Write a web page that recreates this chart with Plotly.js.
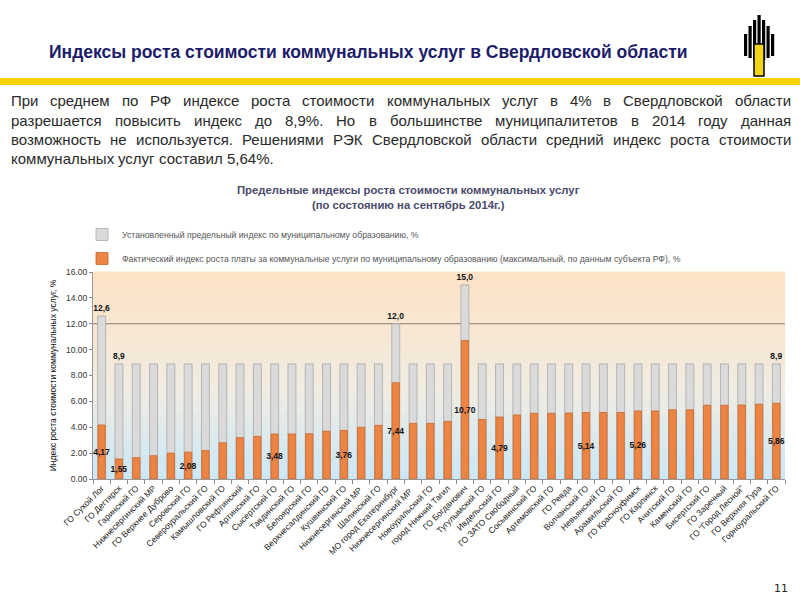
<!DOCTYPE html>
<html>
<head>
<meta charset="utf-8">
<script src="https://cdn.plot.ly/plotly-3.0.1.min.js"></script>
<style>
html,body{margin:0;padding:0;background:#fff;}
#chart{width:800px;height:600px;}
</style>
</head>
<body>
<div id="chart"></div>
<script>
// ---------------- DATA ----------------
const categories = [
  "ГО Сухой Лог", "ГО Дегтярск", "Гаринский ГО", "Нижнесергинский МР", "ГО Верхнее Дуброво",
  "Серовский ГО", "Североуральский ГО", "Камышловский ГО", "ГО Рефтинский", "Артинский ГО",
  "Сысертский ГО", "Тавдинский ГО", "Белоярский ГО", "Верхнесалдинский ГО", "Кушвинский ГО",
  "Нижнесергинский МР ", "Шалинский ГО", "МО город Екатеринбург", "Нижнесергинский МР  ", "Новоуральский ГО",
  "город Нижний Тагил", "ГО Богданович", "Тугулымский ГО", "Ивдельский ГО", "ГО ЗАТО Свободный",
  "Сосьвинский ГО", "Артемовский ГО", "ГО Ревда", "Волчанский ГО", "Невьянский ГО",
  "Арамильский ГО", "ГО Красноуфимск", "ГО Карпинск", "Ачитский ГО", "Каменский ГО",
  "Бисертский ГО", "ГО Заречный", "ГО \"Город Лесной\"", "ГО Верхняя Тура", "Горноуральский ГО"
];
const limitIndex = [
  12.6, 8.9, 8.9, 8.9, 8.9, 8.9, 8.9, 8.9, 8.9, 8.9,
  8.9, 8.9, 8.9, 8.9, 8.9, 8.9, 8.9, 12.0, 8.9, 8.9,
  8.9, 15.0, 8.9, 8.9, 8.9, 8.9, 8.9, 8.9, 8.9, 8.9,
  8.9, 8.9, 8.9, 8.9, 8.9, 8.9, 8.9, 8.9, 8.9, 8.9
];
const actualIndex = [
  4.17, 1.55, 1.65, 1.80, 2.00, 2.08, 2.20, 2.80, 3.20, 3.30,
  3.48, 3.48, 3.50, 3.70, 3.76, 4.00, 4.15, 7.44, 4.30, 4.30,
  4.45, 10.70, 4.60, 4.79, 4.95, 5.08, 5.08, 5.10, 5.14, 5.14,
  5.14, 5.26, 5.26, 5.35, 5.35, 5.70, 5.70, 5.72, 5.78, 5.86
];
// which bars carry a value label (0-based positions)
const limitLabelled = [0, 1, 17, 21, 39];
const actualLabelled = [0, 1, 5, 10, 14, 17, 21, 23, 28, 31, 39];
const referenceLevel = [12];
const yTickValues = [0, 2, 4, 6, 8, 10, 12, 14, 16];

const seriesNames = [
  "Установленный предельный индекс по муниципальному образованию, %",
  "Фактический индекс роста платы за коммунальные услуги по муниципальному образованию (максимальный, по данным субъекта РФ), %"
];

// ---------------- HELPERS ----------------
const fmt = (v, d) => v.toFixed(d).replace('.', ',');
const limitText = limitIndex.map((v, i) => limitLabelled.includes(i) ? fmt(v, 1) : '');
const actualText = actualIndex.map((v, i) => actualLabelled.includes(i) ? fmt(v, 2) : '');

// plot area in page pixels
const PL = 93, PR = 785, PT = 272, PB = 479;
const px = x => (x - PL) / (PR - PL);
const py = y => (PB - y) / (PB - PT);

const shapes = [];
// gradient background of plot area (peach -> light blue)
const stops = [[0, [201, 231, 248]], [0.42, [240, 236, 226]], [1, [253, 226, 196]]];
function colAt(t) {
  for (let k = 0; k < stops.length - 1; k++) {
    const a = stops[k], b = stops[k + 1];
    if (t >= a[0] && t <= b[0]) {
      const f = (t - a[0]) / (b[0] - a[0]);
      const c = a[1].map((v, j) => Math.round(v + (b[1][j] - v) * f));
      return 'rgb(' + c.join(',') + ')';
    }
  }
  return 'rgb(253,226,196)';
}
const N = 50;
for (let k = 0; k < N; k++) {
  shapes.push({type: 'rect', xref: 'paper', yref: 'paper', x0: 0, x1: 1,
    y0: k / N, y1: (k + 1) / N + 0.002, fillcolor: colAt((k + 0.5) / N),
    line: {width: 0}, layer: 'below'});
}
// reference line
referenceLevel.forEach(v => shapes.push({type: 'line', xref: 'paper', yref: 'y', x0: 0, x1: 1,
  y0: v, y1: v, line: {color: '#8a7d73', width: 1.2}, layer: 'below'}));
// yellow header rule
shapes.push({type: 'rect', xref: 'paper', yref: 'paper', x0: px(0), x1: px(800),
  y0: py(85), y1: py(78), fillcolor: '#f4d20c', line: {width: 0}});
// logo (stylised)
const logoStripes = [[744, 34, 56], [748.5, 26, 58], [753, 20, 60], [757.5, 15, 62], [762, 20, 60], [766.5, 26, 58], [771, 34, 56]];
logoStripes.forEach(s => shapes.push({type: 'rect', xref: 'paper', yref: 'paper',
  x0: px(s[0]), x1: px(s[0] + 3.2), y0: py(s[2]), y1: py(s[1]), fillcolor: '#000', line: {width: 0}}));
shapes.push({type: 'rect', xref: 'paper', yref: 'paper', x0: px(754), x1: px(764),
  y0: py(76), y1: py(44), fillcolor: '#f2d41a', line: {color: '#000', width: 1.5}});

const bodyFamily = 'Liberation Sans';
const bodySize = 15;
const bodyLines = [
  "При среднем по РФ индексе роста стоимости коммунальных услуг в 4% в Свердловской области",
  "разрешается повысить индекс до 8,9%. Но в большинстве муниципалитетов в 2014 году данная",
  "возможность не используется. Решениями РЭК Свердловской области средний индекс роста стоимости",
  "коммунальных услуг составил 5,64%."
];
const bodyJustified = [true, true, true, false];
const bodyY = [100, 120, 139, 158];
const bodyLeft = 10, bodyRight = 790;

const annotations = [];
annotations.push({xref: 'paper', yref: 'paper', x: px(47), y: py(52), xanchor: 'left', yanchor: 'middle',
  text: '<b>Индексы роста стоимости коммунальных услуг в Свердловской области</b>', showarrow: false,
  font: {family: bodyFamily + ', Arial, sans-serif', size: 17.5, color: '#1c1c6a'}});

// justified paragraph: each word placed by measured width
const ctx = document.createElement('canvas').getContext('2d');
ctx.font = bodySize + 'px "' + bodyFamily + '"';
const spaceW = ctx.measureText(' ').width;
bodyLines.forEach((line, i) => {
  const words = line.split(' ');
  const widths = words.map(w => ctx.measureText(w).width);
  const total = widths.reduce((a, b) => a + b, 0);
  const gap = bodyJustified[i] ? (bodyRight - bodyLeft - total) / (words.length - 1) : spaceW;
  let x = bodyLeft;
  words.forEach((w, k) => {
    annotations.push({xref: 'paper', yref: 'paper', x: px(x), y: py(bodyY[i]),
      xanchor: 'left', yanchor: 'middle', text: w, showarrow: false, borderpad: 0,
      font: {family: bodyFamily + ', Arial, sans-serif', size: bodySize, color: '#2a2a2a'}});
    x += widths[k] + gap;
  });
});

annotations.push({xref: 'paper', yref: 'paper', x: px(408), y: py(197), xanchor: 'center', yanchor: 'middle',
  text: '<b>Предельные индексы роста стоимости коммунальных услуг<br>(по состоянию на сентябрь 2014г.)</b>',
  showarrow: false, font: {family: 'Liberation Sans, Arial, sans-serif', size: 11.3, color: '#4a4a6c'}});
annotations.push({xref: 'paper', yref: 'paper', x: px(790), y: py(588), xanchor: 'right', yanchor: 'middle',
  text: '11', showarrow: false, font: {family: 'DejaVu Sans, sans-serif', size: 11, color: '#222'}});

const traces = [
  {type: 'bar', x: categories, y: limitIndex, name: seriesNames[0], width: 0.46, legendgroup: 'g1',
   marker: {color: '#dadada', line: {color: '#a9a9a9', width: 0.8}},
   text: limitText, textposition: 'outside', textangle: 0, cliponaxis: false, constraintext: 'none',
   outsidetextfont: {family: 'Liberation Sans, Arial', size: 8.5, color: '#111', weight: 'bold'},
   hoverinfo: 'y'},
  {type: 'bar', x: categories, y: actualIndex, name: seriesNames[1], width: 0.42, legendgroup: 'g2',
   marker: {color: '#ec8443', line: {color: '#c9672d', width: 0.8}},
   text: actualText, textposition: 'inside', insidetextanchor: 'middle', textangle: 0,
   constraintext: 'none',
   insidetextfont: {family: 'Liberation Sans, Arial', size: 8.5, color: '#111', weight: 'bold'},
   hoverinfo: 'y'}
];

const layout = {
  width: 800, height: 600,
  paper_bgcolor: '#ffffff', plot_bgcolor: 'rgba(0,0,0,0)',
  margin: {l: PL, r: 800 - PR, t: PT, b: 600 - PB, pad: 0},
  barmode: 'overlay', bargap: 0.5,
  showlegend: true,
  legend: {x: px(82), y: py(220), xanchor: 'left', yanchor: 'top', bgcolor: 'rgba(0,0,0,0)',
    itemwidth: 30, tracegroupgap: 5,
    font: {family: 'Liberation Sans, Arial', size: 8.7, color: '#555'}},
  xaxis: {type: 'category', tickangle: -45, tickfont: {family: 'Liberation Sans, Arial', size: 8.5, color: '#222'},
    ticks: 'outside', tickson: 'boundaries', ticklen: 4, tickcolor: '#888',
    showline: true, linecolor: '#9a9a9a', linewidth: 1, showgrid: false, automargin: false},
  yaxis: {range: [0, 16], tickvals: yTickValues, tickformat: '.2f', ticks: 'outside', ticklen: 3,
    tickcolor: '#888', showline: true, linecolor: '#9a9a9a', showgrid: false, zeroline: false,
    tickfont: {family: 'Liberation Sans, Arial', size: 8.5, color: '#333'},
    title: {text: 'Индекс роста стоимости коммунальных услуг, %', standoff: 8,
      font: {family: 'Liberation Sans, Arial', size: 8.5, color: '#111'}}, automargin: false},
  shapes: shapes,
  annotations: annotations
};

Plotly.newPlot('chart', traces, layout, {displayModeBar: false, staticPlot: true});
</script>
</body>
</html>
